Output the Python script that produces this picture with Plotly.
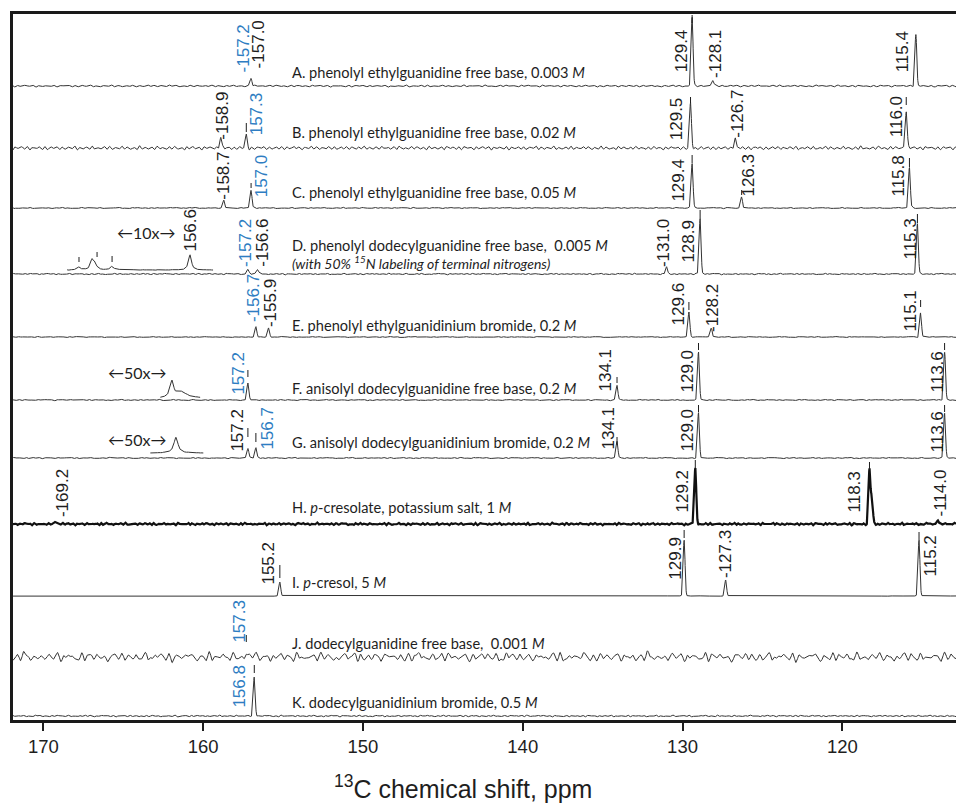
import numpy as np
import plotly.graph_objects as go

# ---------------- DATA ----------------
panel_ids = ["A", "B", "C", "D", "E", "F", "G", "H", "I", "J", "K"]
panel_titles = [
    "A. phenolyl ethylguanidine free base, 0.003 <i>M</i>",
    "B. phenolyl ethylguanidine free base, 0.02 <i>M</i>",
    "C. phenolyl ethylguanidine free base, 0.05 <i>M</i>",
    "D. phenolyl dodecylguanidine free base,  0.005 <i>M</i>",
    "E. phenolyl ethylguanidinium bromide, 0.2 <i>M</i>",
    "F. anisolyl dodecylguanidine free base, 0.2 <i>M</i>",
    "G. anisolyl dodecylguanidinium bromide, 0.2 <i>M</i>",
    "H. <i>p</i>-cresolate, potassium salt, 1 <i>M</i>",
    "I. <i>p</i>-cresol, 5 <i>M</i>",
    "J. dodecylguanidine free base,  0.001 <i>M</i>",
    "K. dodecylguanidinium bromide, 0.5 <i>M</i>",
]
D_subtitle = "<i>(with 50% <sup>15</sup>N labeling of terminal nitrogens)</i>"

# peak positions (ppm) and intensities (arbitrary, as drawn)
A_ppm = [157.0, 129.4, 128.1, 115.4]
A_int = [8, 69, 6, 51]
B_ppm = [158.9, 157.3, 129.5, 126.7, 116.0]
B_int = [11, 13, 45, 10, 38]
C_ppm = [158.7, 157.0, 129.4, 126.3, 115.8]
C_int = [8, 18, 45, 11, 41]
D_ppm = [157.2, 156.6, 131.0, 128.9, 115.3]
D_int = [5, 5, 7, 56, 51]
E_ppm = [156.7, 155.9, 129.6, 128.2, 115.1]
E_int = [10, 9, 25, 9, 24]
F_ppm = [157.2, 134.1, 129.0, 113.6]
F_int = [17, 15, 48, 48]
G_ppm = [157.2, 156.7, 134.1, 129.0, 113.6]
G_int = [10, 10, 17, 45, 45]
H_ppm = [169.2, 129.2, 118.3, 118.15, 114.0]
H_int = [3, 56, 54, 28, 4]
I_ppm = [155.2, 129.9, 127.3, 115.2]
I_int = [14, 56, 16, 56]
J_ppm = [157.3]
J_int = [5]
K_ppm = [156.8]
K_int = [39]

# peak labels (text) and whether they are the guanidine (blue) carbon
A_labels = ["157.2", "157.0", "129.4", "128.1", "115.4"]
A_blue = [1, 0, 0, 0, 0]
B_labels = ["158.9", "157.3", "129.5", "126.7", "116.0"]
B_blue = [0, 1, 0, 0, 0]
C_labels = ["158.7", "157.0", "129.4", "126.3", "115.8"]
C_blue = [0, 1, 0, 0, 0]
D_labels = ["157.2", "156.6", "131.0", "128.9", "115.3"]
D_blue = [1, 0, 0, 0, 0]
E_labels = ["156.7", "155.9", "129.6", "128.2", "115.1"]
E_blue = [1, 0, 0, 0, 0]
F_labels = ["157.2", "134.1", "129.0", "113.6"]
F_blue = [1, 0, 0, 0]
G_labels = ["157.2", "156.7", "134.1", "129.0", "113.6"]
G_blue = [0, 1, 0, 0, 0]
H_labels = ["169.2", "129.2", "118.3", "114.0"]
H_blue = [0, 0, 0, 0]
I_labels = ["155.2", "129.9", "127.3", "115.2"]
I_blue = [0, 0, 0, 0]
J_labels = ["157.3"]
J_blue = [1]
K_labels = ["156.8"]
K_blue = [1]

# expanded insets (drawn on the shared axis)
D_inset_ppm = [167.77, 166.95, 166.76, 165.70, 160.82]
D_inset_int = [3, 10, 6, 4, 15]
D_inset_marks = [167.77, 166.64, 165.70]
D_inset_label = "156.6"
F_inset_ppm = [161.95, 161.35]
F_inset_int = [16, 6]
G_inset_ppm = [161.70]
G_inset_int = [16]

x_ticks = [170, 160, 150, 140, 130, 120]

# ---------------- LAYOUT / STYLE ----------------
W, H = 956, 807
ML, MT, MB = 13, 14, 87
X_RANGE = [171.9, 112.886]
PLOT_H = H - MT - MB
# baseline height of each panel (pixels above plot bottom)
panel_base = [634, 572, 512, 446, 383, 320, 262, 196, 124, 63, 4]
# baseline ripple amplitude / period (ppm) / irregularity per panel
ripple = [(1.0, 0.45, 0.2), (1.8, 0.37, 0.2), (0.6, 0.40, 0.4), (0.7, 0.35, 0.5),
          (0.5, 0.40, 0.5), (0.6, 0.40, 0.5), (0.6, 0.40, 0.5), (1.0, 0.30, 0.6),
          (0.15, 0.40, 0.5), (3.4, 0.50, 1.0), (0.8, 0.35, 0.5)]
line_w = [1, 1, 1, 1, 1, 1, 1, 2.2, 1, 1, 1]
title_rel = [14, 16, 16, 29, 12, 12, 16, 17, 14, 14, 14]
PEAK_W = 0.082  # ppm, gaussian width of the sharp lines

# per label: dash prefix, x shift (px), bottom (px above baseline), tick mark (lo, hi) or None
lab_layout = {
    "A": ([1, 1, 0, 1, 0], [-4.5, 7.3, -10.4, 2.0, -13.0], [13, 17, 13, 7, 13],
          [None, None, (63, 71), None, None]),
    "B": ([1, 0, 0, 1, 0], [1.0, 10.5, -13.8, 1.5, -9.5], [7, 12, 7, 9, 10],
          [None, (16, 25), (45, 51), None, (43, 51)]),
    "C": ([1, 0, 0, 0, 0], [-1.2, 10.7, -14, 6.4, -11.4], [7, 10, 5, 10, 10],
          [None, (20, 25), (45, 53), (13, 18), (41, 50)]),
    "D": ([1, 1, 1, 0, 0], [-2.8, 4.3, -3.5, -12, -7.4], [6, 6, 6, 10, 13],
          [None, None, None, (56, 64), (51, 60)]),
    "E": ([1, 1, 0, 1, 0], [-2.8, 1.4, -10, 0.7, -10.6], [14, 9, 11, 4, 4],
          [None, None, (27, 35), None, (30, 37)]),
    "F": ([0, 0, 0, 0], [-9.8, -12, -11.5, -6.6], [4, 7, 6, 7],
          [(23, 30), (17, 23), (50, 57), (50, 57)]),
    "G": ([0, 0, 0, 0, 0], [-10.8, 11.2, -9, -11.5, -6.6], [5, 7, 7, 5, 5],
          [(21, 30), (16, 25), (13, 21), (46, 53), (46, 53)]),
    "H": ([1, 0, 0, 1], [5.9, -13.3, -14.5, 1.8], [6, 10, 11, 6],
          [None, (56, 64), (54, 62), None]),
    "I": ([0, 0, 1, 0], [-11.8, -9, -0.6, 11], [10, 15, 17, 18],
          [(18, 31), (58, 66), None, (56, 64)]),
    "J": ([0], [-7.2], [13], [(15, 22)]),
    "K": ([0], [-15.2], [7], [(43, 51)]),
}

BLACK = "#1e1e1e"
BLUE = "#2e7dc2"
LINE = "#333333"
NUM_FONT = "Liberation Sans, Arial, sans-serif"
TXT_FONT = "Lato, Open Sans, sans-serif"

peaks = {"A": (A_ppm, A_int), "B": (B_ppm, B_int), "C": (C_ppm, C_int), "D": (D_ppm, D_int),
         "E": (E_ppm, E_int), "F": (F_ppm, F_int), "G": (G_ppm, G_int), "H": (H_ppm, H_int),
         "I": (I_ppm, I_int), "J": (J_ppm, J_int), "K": (K_ppm, K_int)}
labels = {"A": (A_labels, A_blue), "B": (B_labels, B_blue), "C": (C_labels, C_blue),
          "D": (D_labels, D_blue), "E": (E_labels, E_blue), "F": (F_labels, F_blue),
          "G": (G_labels, G_blue), "H": (H_labels, H_blue), "I": (I_labels, I_blue),
          "J": (J_labels, J_blue), "K": (K_labels, K_blue)}


def sharp_lines(x, centers, heights, w):
    y = np.zeros_like(x)
    for c, h in zip(centers, heights):
        y += h * np.exp(-((x - c) / w) ** 2)
    return y


def broad_lines(x, centers, heights, widths):
    y = np.zeros_like(x)
    for c, h, w in zip(centers, heights, widths):
        y += h / (1.0 + ((x - c) / w) ** 2)
    return y


def baseline_ripple(x, amp, per, irr, k):
    ph = 0.7 * k
    r = 0.6 * np.sin(2 * np.pi * x / per + ph)
    extra = [(0.73, 0.25), (2.9, 0.2), (0.57, 0.15), (1.37, 0.3), (0.83, 0.25),
             (4.1, 0.2), (0.61, 0.2), (1.9, 0.25)]
    for i, (m, a) in enumerate(extra):
        w = a if i < 3 else a * irr
        r = r + w * np.sin(2 * np.pi * x / (per * m) + (i + 2) * ph + 0.9 * i)
    return amp * r


fig = go.Figure()
xg = np.arange(X_RANGE[1], X_RANGE[0], 0.01)

annotations = []
tick_x, tick_y = [], []

for k, pid in enumerate(panel_ids):
    base = panel_base[k]
    ppm, inten = peaks[pid]
    amp, per, irr = ripple[k]
    y = base + sharp_lines(xg, ppm, inten, PEAK_W) + baseline_ripple(xg, amp, per, irr, k)
    fig.add_trace(go.Scatter(x=xg, y=y, mode="lines", hoverinfo="skip",
                             line=dict(color=LINE if pid != "H" else "#111", width=line_w[k]),
                             showlegend=False))
    # panel title
    annotations.append(dict(x=154.56, y=base + title_rel[k], xref="x", yref="y",
                            text=panel_titles[k], showarrow=False, xanchor="left",
                            yanchor="middle", font=dict(family=TXT_FONT, size=14.6, color=BLACK)))
    # peak labels
    texts, blues = labels[pid]
    dash, xs, bots, ticks = lab_layout[pid]
    for j, t in enumerate(texts):
        v = float(t)
        annotations.append(dict(x=v, y=base + bots[j], xref="x", yref="y",
                                text=("-" if dash[j] else "") + t, showarrow=False,
                                textangle=-90, xanchor="center", yanchor="bottom",
                                xshift=xs[j], borderpad=0,
                                font=dict(family=NUM_FONT, size=17,
                                          color=BLUE if blues[j] else BLACK)))
        if ticks[j] is not None:
            tick_x += [v, v, None]
            tick_y += [base + ticks[j][0], base + ticks[j][1], None]

# D subtitle
kD = panel_ids.index("D")
annotations.append(dict(x=154.56, y=panel_base[kD] + 12, xref="x", yref="y", text=D_subtitle,
                        showarrow=False, xanchor="left", yanchor="middle",
                        font=dict(family=TXT_FONT, size=14, color=BLACK)))

# insets
inset_specs = [
    ("D", D_inset_ppm, D_inset_int, [0.11] * 5, (168.52, 159.38), 4, "←10x→", 163.57, 42),
    ("F", F_inset_ppm, F_inset_int, [0.13, 0.4], (162.69, 160.19), 2, "←50x→", 164.14, 28),
    ("G", G_inset_ppm, G_inset_int, [0.15], (163.32, 159.99), 5, "←50x→", 164.14, 19),
]
for pid, ip, ii, ws, (x0, x1), brel, lab, lx, lrel in inset_specs:
    k = panel_ids.index(pid)
    base = panel_base[k] + brel
    xi = np.arange(x1, x0, 0.01)
    yi = base + broad_lines(xi, ip, ii, ws) + baseline_ripple(xi, 0.3, 0.3, 0.3, k)
    fig.add_trace(go.Scatter(x=xi, y=yi, mode="lines", hoverinfo="skip",
                             line=dict(color=LINE, width=1), showlegend=False))
    annotations.append(dict(x=lx, y=panel_base[k] + lrel, xref="x", yref="y", text=lab,
                            showarrow=False, xanchor="center", yanchor="middle",
                            font=dict(family=TXT_FONT, size=16, color=BLACK)))

# D inset marks and label
baseD = panel_base[kD]
for m, (lo, hi) in zip(D_inset_marks, [(12, 17), (17, 22), (12, 18)]):
    tick_x += [m, m, None]
    tick_y += [baseD + lo, baseD + hi, None]
annotations.append(dict(x=D_inset_ppm[-1], y=baseD + 21, xref="x", yref="y", text=D_inset_label,
                        showarrow=False, textangle=-90, xanchor="center", yanchor="bottom",
                        borderpad=0, font=dict(family=NUM_FONT, size=17, color=BLACK)))

fig.add_trace(go.Scatter(x=tick_x, y=tick_y, mode="lines", hoverinfo="skip",
                         line=dict(color=BLACK, width=1), showlegend=False))

# axis title
annotations.append(dict(x=(463 - ML) / (W - ML), y=-(787 - (H - MB)) / PLOT_H,
                        xref="paper", yref="paper",
                        text="<sup>13</sup>C chemical shift, ppm", showarrow=False,
                        xanchor="center", yanchor="middle",
                        font=dict(family=NUM_FONT, size=25, color=BLACK)))

fig.update_layout(
    width=W, height=H,
    margin=dict(l=ML, r=0, t=MT, b=MB, pad=0),
    paper_bgcolor="white", plot_bgcolor="white",
    showlegend=False,
    annotations=annotations,
    xaxis=dict(range=X_RANGE, tickvals=x_ticks, ticktext=[str(t) for t in x_ticks],
               ticks="outside", ticklen=8, tickwidth=1.5, tickcolor=BLACK,
               showline=True, linewidth=3, linecolor="#1a1a1a", mirror=True,
               showgrid=False, zeroline=False,
               tickfont=dict(family=NUM_FONT, size=18.5, color=BLACK)),
    yaxis=dict(range=[0, PLOT_H], showticklabels=False, ticks="", showgrid=False,
               zeroline=False, showline=True, linewidth=3, linecolor="#1a1a1a", mirror=False),
)

fig.write_html("out.html", config={"displayModeBar": False},
               post_script="document.body.style.margin='0';document.body.style.overflow='hidden';")
